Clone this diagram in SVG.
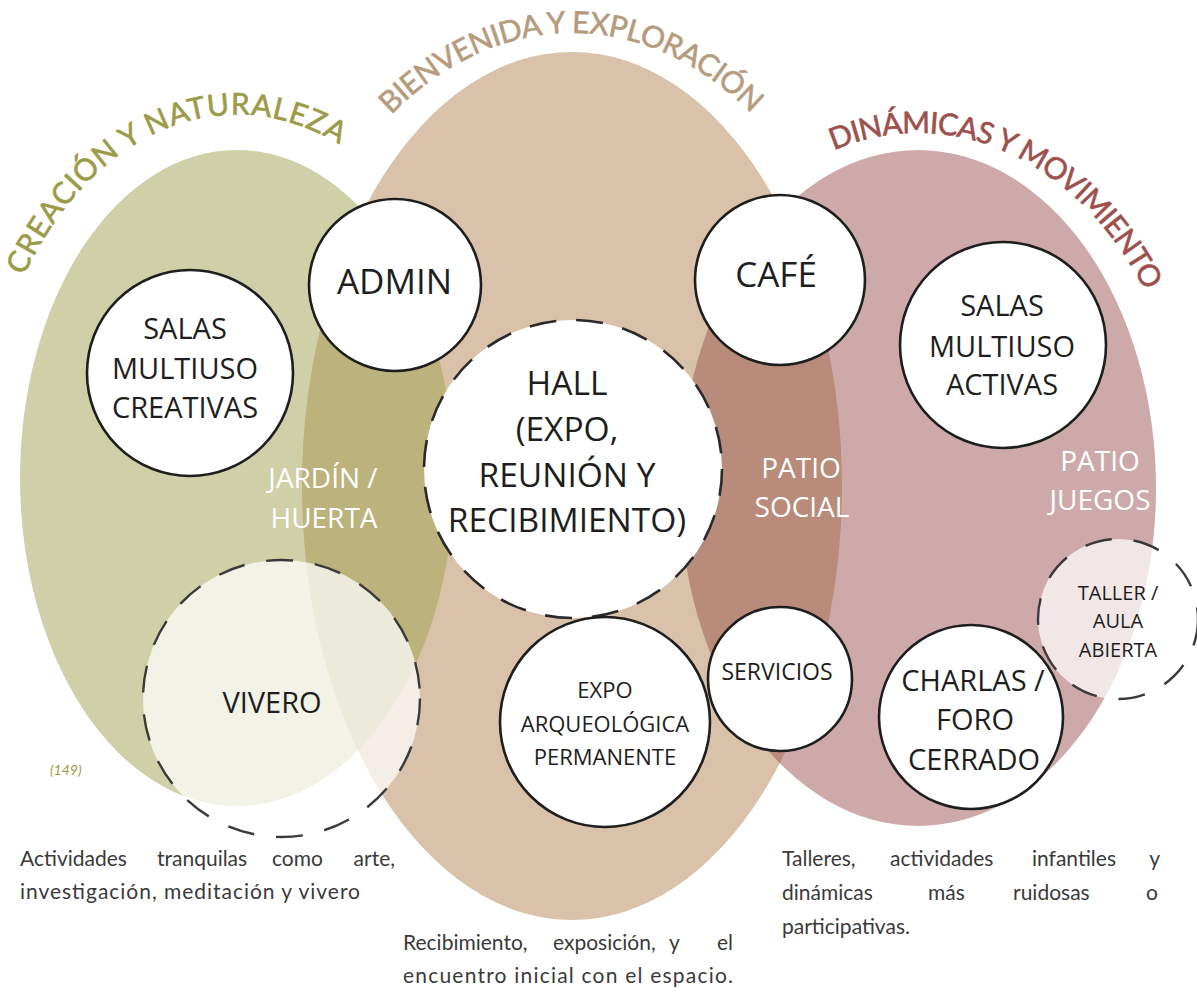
<svg xmlns="http://www.w3.org/2000/svg" xmlns:xlink="http://www.w3.org/1999/xlink" width="1197" height="993" viewBox="0 0 1197 993">
  <style>
    .node { fill: #ffffff; stroke: #1e1e1e; stroke-width: 2.6; }
    .dashed { stroke: #2a2a2a; stroke-width: 2.6; stroke-dasharray: 27 20; }
    .soft { fill: #ffffff; fill-opacity: 0.72; stroke: #3a3a3a; stroke-width: 2.4; stroke-dasharray: 27 22; }
    .lbl { font-family: "Open Sans", "Liberation Sans", sans-serif; fill: #1e1e1e; text-anchor: middle; }
    .zone { font-family: "Open Sans", "Liberation Sans", sans-serif; fill: #ffffff; text-anchor: middle; font-size: 28px; }
    .title { font-family: "Lato", "Liberation Sans", sans-serif; font-size: 30px; stroke-width: 0.6px; }
    .body { font-family: "Lato", "Liberation Sans", sans-serif; font-size: 21px; fill: #3a3a3a; }
  </style>
  <defs>
    <clipPath id="clipTan">
      <ellipse cx="572" cy="486" rx="270" ry="434"/>
    </clipPath>
    <path id="arcGreen" d="M 24 276 A 254 354 0 0 1 491 478" fill="none"/>
    <path id="arcTan" d="M 391 115 A 315 452 0 0 1 887 485" fill="none"/>
    <path id="arcPink" d="M 833.6 150.4 A 273 355 0 0 1 1191 488" fill="none"/>
  </defs>

  <g id="zones">
    <ellipse id="zone-green" cx="237" cy="478" rx="217" ry="328" fill="#cfd0a7"/>
    <ellipse id="zone-tan" cx="572" cy="486" rx="270" ry="434" fill="#d9c2a9"/>
    <ellipse id="zone-pink" cx="918" cy="488" rx="238" ry="338" fill="#cdaaa9"/>
    <g clip-path="url(#clipTan)">
      <ellipse cx="237" cy="478" rx="217" ry="328" fill="#bcb27c"/>
      <ellipse cx="918" cy="488" rx="238" ry="338" fill="#b98b7b"/>
    </g>
  </g>

  <g id="zone-labels">
    <text class="zone" x="323" y="488">JARDÍN /</text>
    <text class="zone" x="324" y="528">HUERTA</text>
    <text class="zone" x="801" y="478">PATIO</text>
    <text class="zone" x="802" y="517">SOCIAL</text>
    <text class="zone" x="1100" y="471">PATIO</text>
    <text class="zone" x="1100" y="510">JUEGOS</text>
  </g>

  <g id="titles">
    <text class="title" fill="#9b9b48" stroke="#9b9b48"><textPath href="#arcGreen" xlink:href="#arcGreen" textLength="390" lengthAdjust="spacing">CREACIÓN Y NATURALEZA</textPath></text>
    <text class="title" fill="#b69b7d" stroke="#b69b7d"><textPath href="#arcTan" xlink:href="#arcTan" textLength="406" lengthAdjust="spacing">BIENVENIDA Y EXPLORACIÓN</textPath></text>
    <text class="title" fill="#9c514c" stroke="#9c514c"><textPath href="#arcPink" xlink:href="#arcPink" textLength="378" lengthAdjust="spacing">DINÁMICAS Y MOVIMIENTO</textPath></text>
  </g>

  <g id="node-vivero">
    <circle class="soft" cx="281.5" cy="698.5" r="138.5"/>
    <text class="lbl" x="272" y="713" font-size="29">VIVERO</text>
  </g>

  <g id="node-taller">
    <circle class="soft" cx="1118" cy="619" r="80"/>
    <text class="lbl" x="1118" y="600" font-size="20">TALLER /</text>
    <text class="lbl" x="1118" y="628" font-size="20">AULA</text>
    <text class="lbl" x="1118" y="657" font-size="20">ABIERTA</text>
  </g>

  <g id="node-salas-creativas">
    <circle class="node" cx="190" cy="373" r="103"/>
    <text class="lbl" x="185" y="339" font-size="29">SALAS</text>
    <text class="lbl" x="185" y="379" font-size="29">MULTIUSO</text>
    <text class="lbl" x="185" y="418" font-size="29">CREATIVAS</text>
  </g>

  <g id="node-admin">
    <circle class="node" cx="395" cy="285" r="86"/>
    <text class="lbl" x="394.5" y="294" font-size="35">ADMIN</text>
  </g>

  <g id="node-cafe">
    <circle class="node" cx="780" cy="280" r="85"/>
    <text class="lbl" x="776" y="287" font-size="35">CAFÉ</text>
  </g>

  <g id="node-salas-activas">
    <circle class="node" cx="1003" cy="345" r="103"/>
    <text class="lbl" x="1002" y="316" font-size="29">SALAS</text>
    <text class="lbl" x="1002" y="357" font-size="29">MULTIUSO</text>
    <text class="lbl" x="1002" y="395" font-size="29">ACTIVAS</text>
  </g>

  <g id="node-hall">
    <circle class="node dashed" cx="573" cy="469" r="149"/>
    <text class="lbl" x="567" y="395" font-size="33.5">HALL</text>
    <text class="lbl" x="567" y="441" font-size="33.5">(EXPO,</text>
    <text class="lbl" x="567" y="487" font-size="33.5">REUNIÓN Y</text>
    <text class="lbl" x="567" y="532" font-size="33.5">RECIBIMIENTO)</text>
  </g>

  <g id="node-expo">
    <circle class="node" cx="605" cy="722" r="105"/>
    <text class="lbl" x="605" y="698" font-size="22">EXPO</text>
    <text class="lbl" x="605" y="732" font-size="22">ARQUEOLÓGICA</text>
    <text class="lbl" x="605" y="765" font-size="22">PERMANENTE</text>
  </g>

  <g id="node-servicios">
    <circle class="node" cx="780" cy="679" r="72"/>
    <text class="lbl" x="777" y="680" font-size="23">SERVICIOS</text>
  </g>

  <g id="node-charlas">
    <circle class="node" cx="971" cy="717" r="92"/>
    <text class="lbl" x="973" y="691" font-size="29">CHARLAS /</text>
    <text class="lbl" x="975" y="730" font-size="29">FORO</text>
    <text class="lbl" x="974" y="770" font-size="29">CERRADO</text>
  </g>

  <g id="connectors"></g>

  <text x="50" y="775" font-family="Lato, 'Liberation Sans', sans-serif" font-style="italic" font-size="14" fill="#9b9b48">(149)</text>

  <g id="captions" class="body">
    <text x="20" y="866">Actividades</text>
    <text x="157" y="866">tranquilas</text>
    <text x="272" y="866">como</text>
    <text x="395" y="866" text-anchor="end">arte,</text>
    <text x="20" y="899" textLength="340" lengthAdjust="spacing">investigación, meditación y vivero</text>

    <text x="403" y="950">Recibimiento,</text>
    <text x="553" y="950">exposición,</text>
    <text x="669" y="950">y</text>
    <text x="733" y="950" text-anchor="end">el</text>
    <text x="403" y="983" textLength="330" lengthAdjust="spacing">encuentro inicial con el espacio.</text>

    <text x="782" y="866">Talleres,</text>
    <text x="890" y="866">actividades</text>
    <text x="1032" y="866">infantiles</text>
    <text x="1160" y="866" text-anchor="end">y</text>
    <text x="782" y="900">dinámicas</text>
    <text x="928" y="900">más</text>
    <text x="1013" y="900">ruidosas</text>
    <text x="1158" y="900" text-anchor="end">o</text>
    <text x="782" y="934">participativas.</text>
  </g>
</svg>
